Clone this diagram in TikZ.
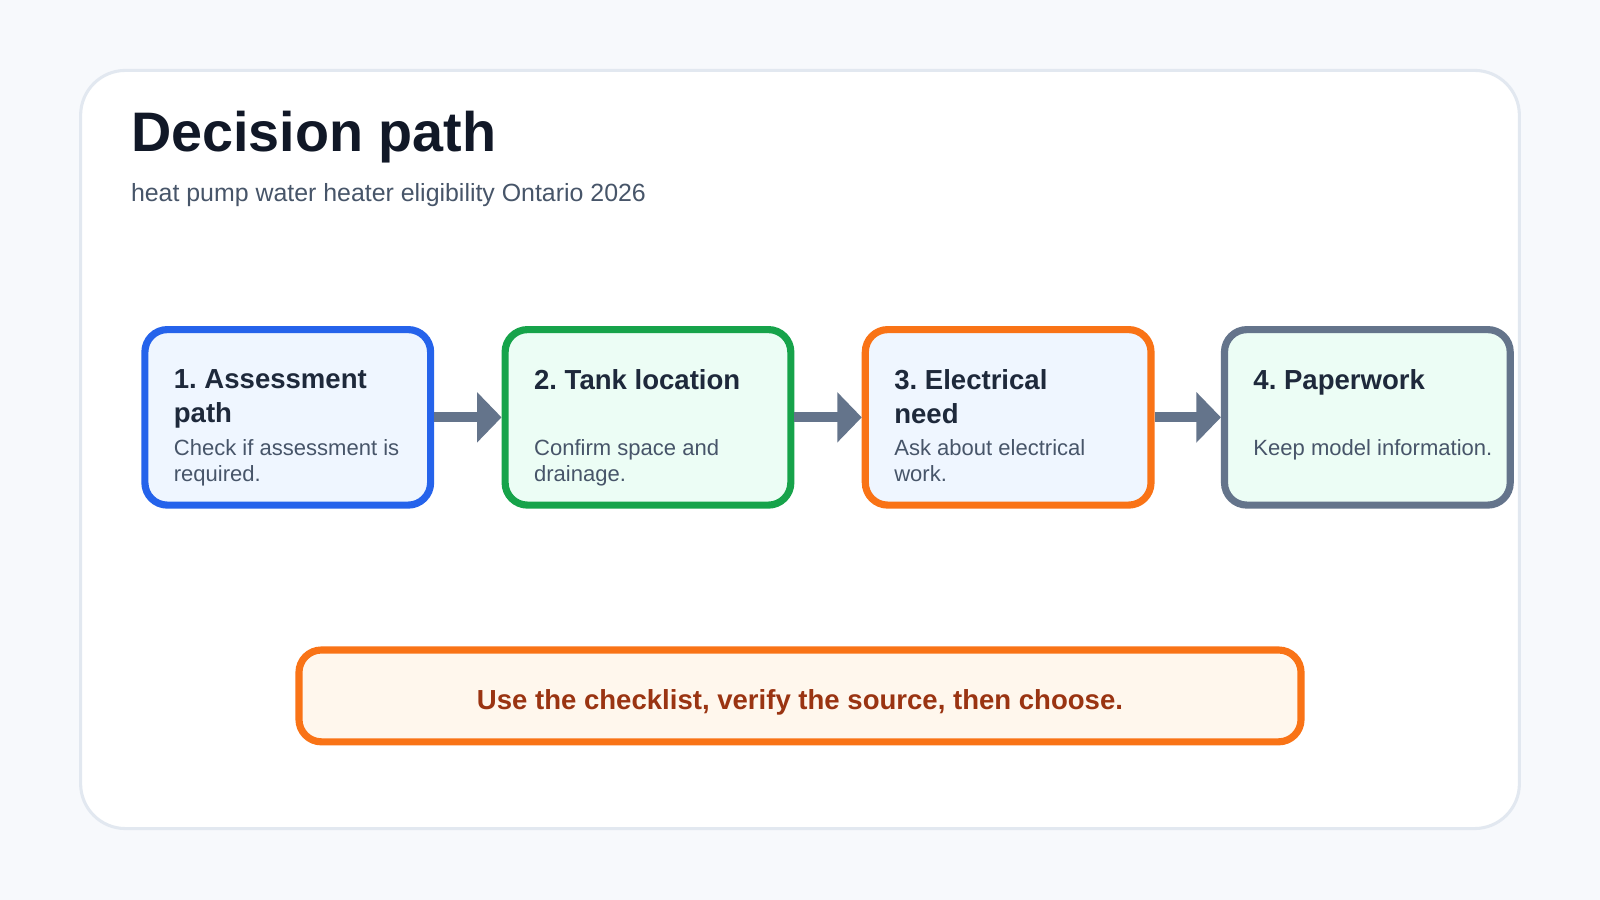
\documentclass[tikz,border=0pt]{standalone}
\usepackage{fontspec}
\setmainfont{Liberation Sans}
\frenchspacing
\usetikzlibrary{arrows.meta}
\definecolor{bgcol}{HTML}{F7F9FC}
\definecolor{panelline}{HTML}{E2E8F0}
\definecolor{titlecol}{HTML}{111827}
\definecolor{subcol}{HTML}{475569}
\definecolor{bluecol}{HTML}{2563EB}
\definecolor{greencol}{HTML}{16A34A}
\definecolor{orangecol}{HTML}{F97316}
\definecolor{graycol}{HTML}{64748B}
\definecolor{bluefill}{HTML}{EFF6FF}
\definecolor{greenfill}{HTML}{ECFDF5}
\definecolor{notefill}{HTML}{FFF7ED}
\definecolor{notetext}{HTML}{9A3412}
\definecolor{headcol}{HTML}{1E293B}

\begin{document}
\begin{tikzpicture}[x=0.5pt,y=-0.5pt]
            \tikzstyle{step box}=[draw,rounded corners=11pt,line width=3.5pt,minimum width=140pt,minimum height=86pt,inner sep=0pt]
            \tikzstyle{step head}=[anchor=north west,align=left,inner sep=0pt,font=\fontsize{13.5}{16.5}\selectfont\bfseries,text=headcol]
            \tikzstyle{step body}=[anchor=north west,align=left,inner sep=0pt,font=\fontsize{10.8}{13}\selectfont,text=subcol]
            \tikzstyle{flow}=[draw=graycol,line width=5pt,-{Triangle[length=12pt,width=24pt]}]

            \fill[bgcol] (0,0) rectangle (1568,882);
            \useasboundingbox (0,0) rectangle (1568,882);
            \draw[panelline,fill=white,line width=1.5pt,rounded corners=22pt] (79,69) rectangle (1489,812);

            \node[anchor=base west,inner sep=0pt,text=titlecol,font=\fontsize{27.3}{30}\selectfont\bfseries] (title) at (128,148) {Decision path};
            \node[anchor=base west,inner sep=0pt,text=subcol,font=\fontsize{12.2}{14}\selectfont] (subtitle) at (128,197) {heat pump water heater eligibility Ontario 2026};

            \node[step box,draw=bluecol,fill=bluefill] (B1) at (282,409) {};
            \node[step box,draw=greencol,fill=greenfill] (B2) at (635,409) {};
            \node[step box,draw=orangecol,fill=bluefill] (B3) at (988,409) {};
            \node[step box,draw=graycol,fill=greenfill] (B4) at (1340,409) {};

            \node[step head] (H1) at (170,362) {1. Assessment\\path};
            \node[step body] (T1) at (170,430) {Check if assessment is\\required.};
            \node[step head] (H2) at (523,362) {2. Tank location};
            \node[step body] (T2) at (523,430) {Confirm space and\\drainage.};
            \node[step head] (H3) at (876,362) {3. Electrical\\need};
            \node[step body] (T3) at (876,430) {Ask about electrical\\work.};
            \node[step head] (H4) at (1228,362) {4. Paperwork};
            \node[step body] (T4) at (1228,430) {Keep model information.};

            \draw[flow] (B1) -- (B2);
            \draw[flow] (B2) -- (B3);
            \draw[flow] (B3) -- (B4);

            \node[draw=orangecol,fill=notefill,line width=3.5pt,rounded corners=11pt,minimum width=491pt,minimum height=45pt] (note) at (784,682) {};
            \node[text=notetext,font=\fontsize{13.5}{16}\selectfont\bfseries] (note text) at (784,688) {Use the checklist, verify the source, then choose.};
        \end{tikzpicture}
\end{document}
